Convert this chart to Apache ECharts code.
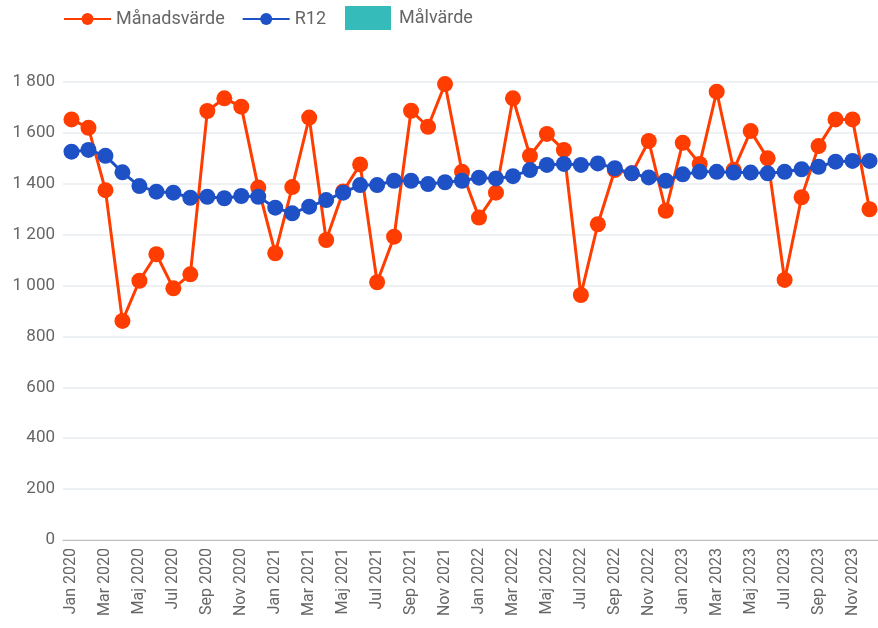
<!DOCTYPE html>
<html>
<head>
<meta charset="utf-8">
<script src="https://cdn.jsdelivr.net/npm/echarts@6/dist/echarts.min.js"></script>
<style>
  html, body { margin: 0; padding: 0; background: #fff; }
  #chart { width: 878px; height: 628px; }
</style>
</head>
<body>
<div id="chart"></div>
<script>
// Monthly values, Jan 2020 – Dec 2023
const monthNames = ['Jan', 'Feb', 'Mar', 'Apr', 'Maj', 'Jun', 'Jul', 'Aug', 'Sep', 'Okt', 'Nov', 'Dec'];
const years = [2020, 2021, 2022, 2023];

const monthlyValues = [
  1653, 1620, 1375, 861, 1019, 1123, 989, 1044, 1686, 1736, 1703, 1385,
  1127, 1387, 1660, 1179, 1370, 1476, 1013, 1192, 1687, 1624, 1792, 1447,
  1267, 1365, 1736, 1510, 1596, 1533, 963, 1241, 1454, 1441, 1568, 1294,
  1561, 1478, 1762, 1455, 1607, 1500, 1022, 1347, 1548, 1653, 1653, 1300
];

const rolling12 = [
  1526, 1533, 1510, 1445, 1391, 1369, 1365, 1345, 1349, 1343, 1352, 1349,
  1306, 1284, 1310, 1336, 1365, 1395, 1395, 1412, 1412, 1399, 1406, 1412,
  1424, 1421, 1430, 1454, 1474, 1478, 1474, 1480, 1461, 1441, 1425, 1412,
  1437, 1447, 1447, 1444, 1444, 1441, 1447, 1457, 1467, 1487, 1490, 1490
];

const targetValues = [];

const categories = [];
years.forEach(y => monthNames.forEach(m => categories.push(m + ' ' + y)));

const RED = '#ff3d00';
const BLUE = '#1e50c6';
const TEAL = '#35bcba';
const FONT = 'Roboto';

function spaced(v) {
  return String(v).replace(/\B(?=(\d{3})+(?!\d))/g, ' ');
}

const chart = echarts.init(document.getElementById('chart'), null, { renderer: 'canvas' });

chart.setOption({
  animation: false,
  textStyle: { fontFamily: FONT },
  legend: [
    {
      left: 58,
      top: 5,
      itemWidth: 47,
      itemHeight: 15,
      itemGap: 17,
      textStyle: { fontFamily: FONT, fontSize: 18, color: '#666' },
      data: ['Månadsvärde', 'R12']
    },
    {
      left: 340,
      top: 1,
      itemWidth: 46,
      itemHeight: 24,
      textStyle: { fontFamily: FONT, fontSize: 18, color: '#666', padding: [2, 0, 0, 3] },
      data: [{ name: 'Målvärde', icon: 'rect' }]
    }
  ],
  grid: { left: 63, right: 0, top: 82, bottom: 88, containLabel: false },
  xAxis: {
    type: 'category',
    data: categories,
    boundaryGap: true,
    axisLine: { lineStyle: { color: '#bdbdbd', width: 1 } },
    axisTick: { show: false },
    axisLabel: {
      interval: 1,
      rotate: 90,
      margin: 8,
      fontFamily: FONT,
      fontSize: 16,
      color: '#666'
    },
    splitLine: { show: false }
  },
  yAxis: {
    type: 'value',
    min: 0,
    max: 1800,
    interval: 200,
    axisLine: { show: false },
    axisTick: { show: false },
    axisLabel: {
      margin: 8,
      fontFamily: FONT,
      fontSize: 17,
      color: '#666',
      formatter: v => spaced(v)
    },
    splitLine: { lineStyle: { color: '#e9edf1', width: 1.5 } }
  },
  series: [
    {
      name: 'Månadsvärde',
      type: 'line',
      data: monthlyValues,
      symbol: 'circle',
      symbolSize: 16,
      showAllSymbol: true,
      itemStyle: { color: RED },
      lineStyle: { color: RED, width: 3 },
      z: 2
    },
    {
      name: 'R12',
      type: 'line',
      data: rolling12,
      symbol: 'circle',
      symbolSize: 16,
      showAllSymbol: true,
      itemStyle: { color: BLUE },
      lineStyle: { color: BLUE, width: 3 },
      z: 3
    },
    {
      name: 'Målvärde',
      type: 'bar',
      data: targetValues,
      itemStyle: { color: TEAL }
    }
  ]
});
</script>
</body>
</html>
